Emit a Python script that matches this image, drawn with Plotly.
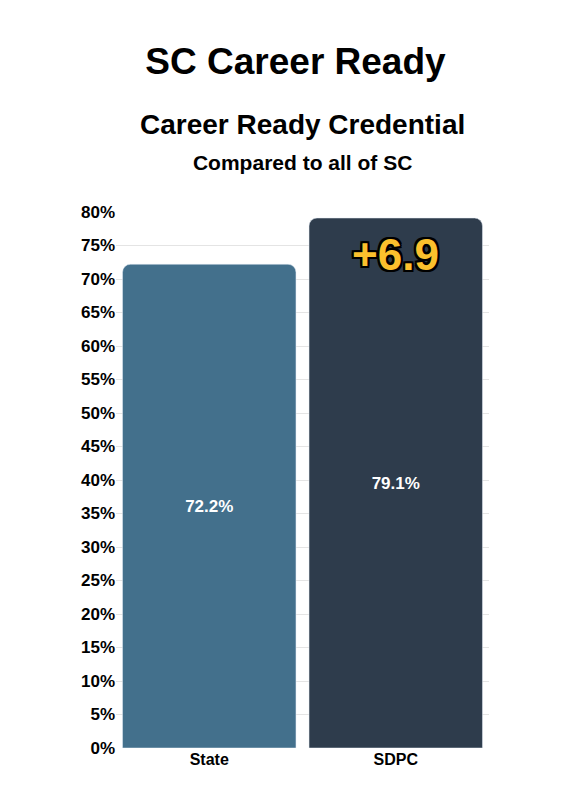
import plotly.graph_objects as go

categorias = ["State", "SDPC"]
valores = [72.2, 79.1]
colores = ["#43708c", "#2e3c4c"]
diferencia = "+6.9"
ticks = list(range(0, 81, 5))

fig = go.Figure(go.Bar(
    x=categorias, y=valores,
    marker=dict(color=colores, cornerradius=8),
    text=[f"<b>{v}%</b>" for v in valores],
    textposition="inside", insidetextanchor="middle",
    textfont=dict(color="white", size=17, family="Liberation Sans"),
    hoverinfo="skip",
))

fig.add_annotation(
    x=categorias[1], y=valores[1] - 1.5, yanchor="top", showarrow=False,
    text=f"<b>{diferencia}</b>",
    font=dict(size=44, color="#fbc02d", family="Liberation Sans",
              shadow="2px 2px 0 #000, -2px -2px 0 #000, 2px -2px 0 #000, -2px 2px 0 #000, 0 2px 0 #000, 2px 0 0 #000, 0 -2px 0 #000, -2px 0 0 #000"),
)

fig.add_annotation(xref="paper", yref="paper", x=0.5, y=1, yanchor="bottom",
                   xanchor="center", showarrow=False, yshift=36,
                   text="<b>Career Ready Credential</b><br><span style='font-size:21px'><b>Compared to all of SC</b></span>",
                   font=dict(size=28, color="black", family="Liberation Sans"))

fig.update_layout(
    width=575, height=800,
    title=dict(text="<b>SC Career Ready</b>", x=0.5, xanchor="center", y=0.95,
               font=dict(size=37, color="black", family="Liberation Sans")),
    margin=dict(l=108, r=94, t=204, b=60),
    bargap=0.07,
    plot_bgcolor="white", paper_bgcolor="white",
    font=dict(family="Liberation Sans", color="black", size=17),
    showlegend=False,
    yaxis=dict(range=[0, 80], tickvals=ticks, ticktext=[f"<b>{t}%</b>" for t in ticks],
               gridcolor="#e4e4e4", zeroline=False, ticks="", fixedrange=True),
    xaxis=dict(tickvals=categorias, ticktext=[f"<b>{c}</b>" for c in categorias],
               tickfont=dict(size=16), showline=False),
)

fig.write_html("out.html")
